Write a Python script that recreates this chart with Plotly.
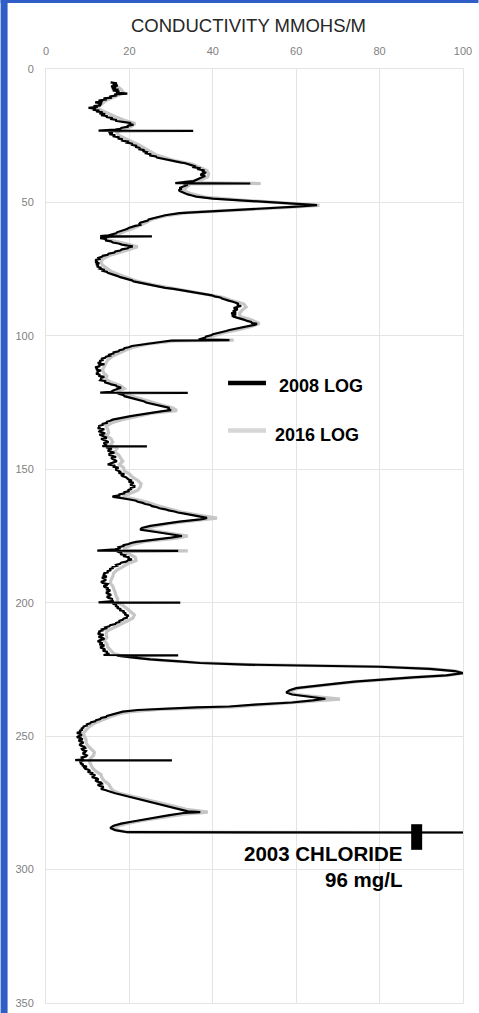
import plotly.graph_objects as go

# ---- conductivity log data (depth, mmohs/m) ----
depth_2008 = [
    5.0, 5.4, 5.8, 6.2, 6.5, 6.9, 7.3, 7.7, 8.0, 8.4,
    8.8, 9.2, 9.5, 9.9, 10.3, 10.7, 11.0, 11.4, 11.8, 12.1,
    12.5, 12.9, 13.2, 13.6, 13.9, 14.2, 14.6, 14.9, 15.2, 15.6,
    15.9, 16.2, 16.6, 16.9, 17.3, 17.7, 18.0, 18.4, 18.7, 19.1,
    19.4, 19.7, 20.0, 20.3, 20.6, 20.9, 21.3, 21.6, 22.0, 22.4,
    22.7, 23.1, 23.2, 23.3, 23.7, 24.0, 24.4, 24.8, 25.2, 25.6,
    26.0, 26.4, 26.8, 27.2, 27.6, 28.0, 28.4, 28.8, 29.2, 29.6,
    30.0, 30.4, 30.8, 31.2, 31.6, 32.0, 32.4, 32.8, 33.2, 33.6,
    34.0, 34.4, 34.7, 35.0, 35.3, 35.6, 36.0, 36.4, 36.8, 37.2,
    37.6, 38.0, 38.4, 38.8, 39.2, 39.6, 40.0, 40.4, 40.8, 41.2,
    41.6, 42.0, 42.3, 42.6, 42.8, 42.9, 43.0, 43.4, 43.8, 44.2,
    44.6, 45.0, 45.4, 45.8, 46.2, 46.6, 47.0, 47.4, 47.8, 48.6,
    49.4, 50.2, 51.0, 51.6, 52.4, 53.2, 54.0, 54.8, 55.2, 55.6,
    56.0, 56.4, 56.8, 57.2, 57.6, 58.0, 58.4, 58.8, 59.2, 59.6,
    60.0, 60.4, 60.8, 61.2, 61.6, 62.0, 62.3, 62.6, 62.7, 62.8,
    63.1, 63.4, 63.8, 64.2, 64.6, 65.0, 65.4, 65.8, 66.2, 66.5,
    66.9, 67.2, 67.6, 68.0, 68.4, 68.8, 69.2, 69.6, 70.0, 70.4,
    70.8, 71.2, 71.6, 72.0, 72.4, 72.8, 73.2, 73.6, 74.0, 74.4,
    74.8, 75.2, 75.6, 76.0, 76.4, 76.8, 77.2, 77.6, 78.0, 78.4,
    78.8, 79.2, 79.6, 80.0, 80.4, 80.8, 81.2, 81.6, 82.0, 82.4,
    82.8, 83.2, 83.6, 84.0, 84.4, 84.8, 85.2, 85.6, 86.0, 86.4,
    86.8, 87.2, 87.6, 88.0, 88.4, 88.8, 89.2, 89.6, 90.0, 90.4,
    90.8, 91.2, 91.6, 92.0, 92.4, 92.8, 93.2, 93.6, 94.0, 94.4,
    94.8, 95.2, 95.5, 95.8, 96.2, 96.6, 97.0, 97.4, 97.8, 98.2,
    98.6, 99.0, 99.4, 99.8, 100.2, 100.6, 101.0, 101.4, 101.6, 101.8,
    102.2, 102.6, 103.0, 103.4, 103.8, 104.2, 104.6, 105.0, 105.4, 105.8,
    106.2, 106.6, 107.0, 107.4, 107.8, 108.2, 108.6, 109.0, 109.4, 109.8,
    110.2, 110.6, 111.0, 111.4, 111.8, 112.2, 112.6, 113.0, 113.4, 113.8,
    114.2, 114.6, 115.0, 115.4, 115.8, 116.2, 116.6, 117.0, 117.4, 117.8,
    118.2, 118.6, 119.0, 119.4, 119.8, 120.2, 120.6, 121.0, 121.3, 121.4,
    121.5, 121.8, 122.2, 122.6, 123.0, 123.4, 123.8, 124.2, 124.6, 125.0,
    125.4, 125.8, 126.2, 126.6, 127.0, 127.4, 127.8, 128.2, 128.6, 129.0,
    129.4, 129.8, 130.2, 130.6, 131.0, 131.4, 131.8, 132.2, 132.6, 133.0,
    133.4, 133.8, 134.2, 134.6, 135.0, 135.4, 135.8, 136.2, 136.6, 137.0,
    137.4, 137.8, 138.2, 138.6, 139.0, 139.4, 139.8, 140.2, 140.6, 141.0,
    141.3, 141.4, 141.5, 141.8, 142.2, 142.6, 143.0, 143.4, 143.8, 144.2,
    144.6, 145.0, 145.4, 145.8, 146.2, 146.6, 147.0, 147.4, 147.8, 148.2,
    148.6, 149.0, 149.4, 149.8, 150.2, 150.6, 151.0, 151.4, 151.8, 152.2,
    152.6, 153.0, 153.4, 153.8, 154.2, 154.6, 155.0, 155.4, 155.8, 156.2,
    156.6, 157.0, 157.4, 157.8, 158.2, 158.6, 159.0, 159.4, 159.8, 160.1,
    160.4, 160.7, 161.0, 161.4, 161.8, 162.2, 162.6, 163.0, 163.4, 163.8,
    164.2, 164.6, 165.0, 165.4, 165.8, 166.2, 166.6, 167.0, 167.4, 167.8,
    168.2, 168.5, 168.8, 169.6, 170.4, 171.2, 172.0, 172.6, 173.4, 174.2,
    175.0, 175.6, 176.4, 177.2, 177.6, 178.0, 178.4, 178.8, 179.2, 179.6,
    180.0, 180.5, 180.6, 180.7, 181.0, 181.4, 181.8, 182.2, 182.6, 183.0,
    183.4, 183.8, 184.2, 184.6, 185.0, 185.4, 185.8, 186.2, 186.6, 187.0,
    187.4, 187.8, 188.2, 188.6, 189.0, 189.4, 189.8, 190.2, 190.6, 191.0,
    191.4, 191.8, 192.2, 192.6, 193.0, 193.4, 193.8, 194.2, 194.6, 195.0,
    195.4, 195.8, 196.2, 196.6, 197.0, 197.4, 197.8, 198.2, 198.6, 199.0,
    199.4, 199.9, 200.0, 200.1, 200.4, 200.8, 201.2, 201.6, 202.0, 202.4,
    202.8, 203.2, 203.6, 204.0, 204.4, 204.8, 205.2, 205.6, 206.0, 206.4,
    206.8, 207.2, 207.6, 208.0, 208.4, 208.8, 209.2, 209.6, 210.0, 210.4,
    210.8, 211.2, 211.6, 212.0, 212.4, 212.8, 213.2, 213.6, 214.0, 214.4,
    214.8, 215.2, 215.6, 216.0, 216.4, 216.8, 217.2, 217.6, 218.0, 218.4,
    218.8, 219.2, 219.6, 219.7, 219.8, 220.4, 221.2, 222.0, 222.6, 223.2,
    224.0, 224.8, 225.6, 226.4, 227.2, 228.0, 228.8, 229.6, 230.4, 231.2,
    232.0, 232.8, 233.6, 234.4, 235.2, 236.0, 236.6, 237.4, 238.2, 238.9,
    239.2, 239.6, 240.2, 240.8, 241.2, 241.6, 242.0, 242.4, 242.8, 243.2,
    243.6, 244.0, 244.4, 244.8, 245.2, 245.6, 246.0, 246.4, 246.8, 247.2,
    247.6, 248.0, 248.4, 248.8, 249.2, 249.6, 250.0, 250.4, 250.8, 251.2,
    251.6, 252.0, 252.4, 252.8, 253.2, 253.6, 254.0, 254.4, 254.8, 255.2,
    255.6, 256.0, 256.4, 256.8, 257.2, 257.6, 258.0, 258.4, 258.8, 259.0,
    259.1, 259.2, 259.5, 259.8, 260.2, 260.6, 261.0, 261.4, 261.8, 262.2,
    262.6, 263.0, 263.4, 263.8, 264.2, 264.6, 265.0, 265.4, 265.8, 266.2,
    266.6, 267.0, 267.4, 267.8, 268.2, 268.6, 269.0, 269.4, 269.8, 270.2,
    270.6, 271.0, 271.4, 271.8, 272.6, 273.4, 274.2, 275.0, 275.8, 276.6,
    277.4, 278.2, 278.5, 278.8, 279.6, 280.4, 281.2, 282.0, 282.8, 283.6,
    284.4, 285.2, 286.0, 286.1,
]
cond_2008 = [
    15.5, 17.0, 16.0, 17.2, 15.6, 16.8, 15.8, 17.4, 16.0, 17.6,
    16.8, 19.5, 16.4, 17.0, 15.2, 15.8, 13.8, 14.6, 12.6, 13.6,
    11.8, 13.4, 12.6, 13.2, 11.4, 12.4, 10.2, 12.0, 11.2, 12.8,
    12.0, 13.6, 12.8, 14.2, 13.2, 14.8, 14.4, 16.0, 15.4, 17.0,
    16.6, 18.0, 18.4, 20.4, 19.8, 21.0, 19.4, 19.8, 18.2, 17.8,
    16.6, 12.6, 35.3, 15.8, 15.0, 16.0, 15.2, 16.6, 16.0, 17.6,
    17.2, 18.4, 18.0, 19.6, 19.4, 20.8, 20.4, 21.8, 21.4, 22.6,
    22.2, 23.6, 23.2, 24.2, 24.0, 25.2, 24.8, 26.4, 26.6, 27.8,
    28.6, 29.8, 31.0, 32.2, 33.4, 34.2, 34.8, 35.6, 35.4, 36.8,
    36.6, 38.0, 37.4, 38.4, 37.6, 37.0, 38.2, 37.6, 37.0, 36.8,
    35.8, 35.4, 33.6, 32.0, 31.0, 49.0, 33.0, 34.0, 33.2, 32.8,
    32.0, 32.6, 31.8, 32.2, 32.8, 33.2, 34.0, 35.0, 36.0, 40.0,
    48.0, 58.0, 65.0, 60.0, 50.0, 42.0, 32.0, 28.6, 27.6, 26.0,
    25.0, 24.6, 24.4, 23.4, 22.6, 22.4, 22.6, 21.4, 20.4, 19.8,
    19.4, 18.4, 17.4, 17.0, 16.8, 16.0, 15.0, 13.0, 25.4, 15.2,
    13.8, 13.0, 14.6, 14.2, 15.6, 16.0, 17.4, 18.2, 19.6, 20.8,
    19.8, 19.6, 18.2, 17.8, 16.6, 16.4, 15.0, 14.8, 13.6, 13.4,
    12.6, 12.8, 11.8, 12.4, 11.8, 12.8, 12.0, 12.6, 12.2, 13.0,
    12.8, 13.8, 13.6, 14.6, 14.8, 15.8, 16.2, 17.2, 17.8, 18.8,
    19.4, 20.6, 21.0, 22.2, 23.0, 24.4, 25.4, 27.2, 28.6, 30.6,
    32.2, 34.2, 35.4, 37.2, 38.2, 39.8, 40.4, 41.8, 42.2, 43.4,
    43.8, 44.8, 45.6, 46.2, 45.8, 46.8, 45.8, 45.0, 46.0, 45.4,
    44.8, 45.6, 44.4, 45.6, 44.6, 45.0, 46.0, 46.4, 47.6, 48.2,
    49.2, 49.4, 50.6, 50.2, 48.8, 47.8, 46.2, 45.6, 44.0, 43.2,
    42.0, 41.2, 40.0, 39.6, 38.4, 38.2, 37.0, 36.6, 44.0, 30.0,
    28.0, 26.0, 23.6, 22.2, 20.6, 20.0, 18.8, 18.6, 17.6, 17.4,
    16.2, 16.2, 15.2, 15.4, 14.4, 14.2, 13.2, 13.8, 12.8, 13.2,
    12.4, 14.0, 12.8, 12.8, 11.8, 12.4, 12.0, 13.2, 12.2, 12.6,
    12.0, 13.0, 12.6, 14.0, 13.2, 13.2, 13.0, 14.4, 14.0, 15.0,
    15.6, 16.8, 17.0, 18.0, 17.0, 16.6, 16.0, 15.6, 13.0, 34.0,
    17.2, 17.6, 18.6, 18.8, 19.8, 20.4, 21.8, 22.4, 23.6, 24.0,
    25.2, 26.2, 27.6, 28.2, 29.6, 29.2, 30.0, 28.0, 26.0, 24.0,
    22.6, 21.4, 20.0, 18.4, 17.2, 16.0, 15.4, 14.6, 14.6, 13.6,
    13.6, 12.6, 13.0, 12.4, 14.0, 13.0, 12.8, 13.8, 14.2, 12.8,
    13.4, 14.0, 14.6, 13.2, 13.8, 14.2, 15.0, 13.8, 14.2, 14.6,
    13.5, 24.2, 15.0, 14.4, 15.8, 15.2, 14.8, 15.6, 16.4, 15.2,
    15.2, 16.0, 16.8, 15.6, 16.0, 16.6, 17.0, 16.2, 15.4, 14.8,
    16.6, 16.0, 17.4, 16.8, 16.8, 17.6, 18.0, 17.4, 18.8, 18.0,
    18.4, 19.2, 19.6, 19.8, 20.6, 19.8, 21.0, 20.4, 20.2, 21.2,
    21.2, 20.2, 20.6, 19.6, 20.0, 18.8, 18.8, 17.6, 17.6, 16.0,
    16.2, 17.8, 19.6, 20.4, 21.6, 22.0, 23.2, 23.8, 25.0, 25.4,
    26.6, 27.2, 28.6, 29.4, 30.8, 31.6, 33.2, 34.4, 36.0, 36.8,
    38.6, 38.0, 37.0, 32.0, 28.0, 25.0, 23.0, 22.6, 26.0, 30.0,
    32.6, 30.0, 25.4, 21.6, 20.4, 19.8, 18.6, 18.6, 17.4, 17.6,
    16.6, 12.3, 31.7, 17.0, 17.4, 18.2, 17.8, 19.0, 18.8, 20.0,
    19.6, 20.6, 19.6, 19.2, 18.0, 17.8, 16.8, 17.0, 15.8, 16.2,
    15.2, 15.6, 14.6, 15.0, 13.8, 14.2, 13.6, 14.6, 13.4, 13.8,
    14.4, 14.0, 13.2, 13.6, 14.8, 14.6, 13.8, 14.2, 15.0, 14.4,
    15.4, 15.0, 14.4, 14.8, 15.6, 15.2, 14.6, 15.0, 16.0, 15.6,
    16.2, 12.6, 32.2, 16.2, 16.0, 17.0, 16.6, 17.4, 17.0, 18.0,
    17.6, 18.8, 18.4, 19.2, 18.8, 19.8, 19.4, 19.4, 18.6, 18.4,
    17.6, 17.6, 16.8, 16.6, 15.4, 15.2, 14.2, 14.4, 13.4, 13.6,
    12.6, 13.0, 12.4, 13.8, 13.2, 12.6, 13.6, 14.0, 13.0, 12.4,
    13.0, 13.6, 12.8, 14.0, 13.4, 13.0, 13.8, 14.2, 13.6, 14.8,
    14.4, 15.2, 13.8, 31.7, 17.0, 20.0, 25.0, 32.0, 37.0, 48.0,
    80.0, 92.0, 98.0, 100.0, 96.0, 88.0, 80.0, 74.0, 69.0, 64.0,
    60.0, 58.4, 57.6, 59.0, 63.0, 67.0, 64.0, 59.0, 50.0, 44.0,
    36.0, 29.0, 22.0, 18.4, 17.4, 16.2, 15.8, 14.6, 14.4, 13.2,
    13.0, 12.0, 11.8, 10.8, 10.6, 9.8, 9.8, 9.0, 9.0, 8.4,
    8.8, 8.0, 8.4, 7.4, 8.2, 8.6, 7.8, 7.4, 8.4, 8.8,
    7.8, 8.2, 9.0, 8.6, 8.0, 8.4, 9.2, 9.4, 8.6, 8.8,
    9.6, 9.4, 8.8, 9.2, 9.8, 9.6, 8.6, 8.8, 8.2, 7.0,
    30.2, 9.2, 8.0, 8.6, 8.2, 9.0, 8.6, 9.8, 9.2, 9.4,
    10.2, 10.6, 10.0, 11.0, 10.8, 11.8, 11.4, 11.0, 12.2, 12.6,
    11.8, 12.2, 13.2, 13.4, 12.4, 12.8, 13.8, 13.6, 13.2, 14.2,
    14.8, 15.8, 16.6, 17.6, 19.6, 21.8, 24.0, 26.2, 28.2, 30.0,
    32.0, 34.0, 37.0, 33.0, 29.6, 26.4, 23.6, 20.8, 18.0, 16.2,
    15.4, 16.6, 19.5, 100.0,
]

depth_2016 = [
    5.2, 6.4, 7.6, 8.8, 10.2, 11.6, 12.8, 14.2, 15.4, 16.8, 18.0, 19.2, 20.4, 21.6, 22.8,
    23.6, 24.8, 26.0, 27.2, 28.4, 29.6, 30.8, 32.0, 33.2, 34.4, 35.6, 36.8, 38.0, 39.2,
    40.4, 41.6, 42.6, 42.9, 43.1, 44.4, 45.6, 46.8, 48.0, 49.2, 50.4, 51.1, 51.8, 52.8,
    53.8, 55.0, 56.2, 57.4, 58.6, 59.8, 61.0, 62.2, 63.2, 64.4, 65.6, 66.6, 67.6, 68.8,
    70.0, 71.2, 72.4, 73.6, 74.8, 76.0, 77.2, 78.4, 79.6, 80.8, 82.0, 83.2, 84.4, 85.6,
    86.8, 88.0, 89.2, 90.4, 91.6, 92.8, 94.0, 95.4, 96.4, 97.6, 98.8, 100.0, 101.2,
    101.6, 101.9, 103.0, 104.2, 105.4, 106.6, 107.8, 109.0, 110.2, 111.4, 112.6, 113.8,
    115.0, 116.2, 117.4, 118.6, 119.8, 121.0, 122.2, 123.4, 124.6, 125.8, 127.0, 128.0,
    129.0, 130.2, 131.4, 132.6, 133.8, 135.0, 136.2, 137.4, 138.6, 139.8, 141.0, 142.2,
    143.4, 144.6, 145.8, 147.0, 148.2, 149.4, 150.6, 151.8, 153.0, 154.2, 155.4, 156.6,
    157.8, 159.0, 160.2, 161.2, 162.4, 163.6, 164.8, 166.0, 167.2, 168.3, 169.2, 170.4,
    171.6, 172.6, 173.8, 175.0, 175.8, 177.0, 178.2, 179.4, 180.4, 180.6, 180.8, 181.8,
    183.0, 184.2, 185.4, 186.6, 187.8, 189.0, 190.2, 191.4, 192.6, 193.8, 195.0, 196.2,
    197.4, 198.6, 199.8, 201.0, 202.2, 203.4, 204.6, 205.8, 207.0, 208.2, 209.4, 210.6,
    211.8, 213.0, 214.2, 215.4, 216.6, 217.8, 219.0, 219.8, 220.6, 221.6, 222.4, 223.2,
    224.0, 224.8, 225.6, 226.4, 227.2, 228.0, 228.8, 229.6, 230.4, 231.2, 232.0, 232.8,
    233.6, 234.4, 235.2, 236.1, 236.8, 237.6, 238.4, 239.0, 239.4, 240.0, 240.8, 241.6,
    242.4, 243.2, 244.0, 245.2, 246.4, 247.6, 248.8, 250.0, 251.2, 252.4, 253.6, 254.8,
    256.0, 257.2, 258.4, 259.6, 260.8, 262.0, 263.2, 264.4, 265.6, 266.8, 268.0, 269.2,
    270.4, 271.4, 272.6, 273.8, 275.0, 276.2, 277.4, 278.5, 279.2, 280.4, 281.6, 282.8,
    283.8, 284.6, 285.4, 286.0, 286.1,
]
cond_2016 = [
    16.5, 17.0, 18.0, 18.6, 16.8, 14.6, 13.6, 12.0, 13.2, 15.0, 16.8, 18.8, 21.4, 20.4, 18.2,
    17.0, 17.4, 18.8, 20.6, 22.2, 23.6, 25.0, 26.2, 28.4, 31.0, 35.0, 37.0, 38.6, 39.0,
    38.8, 37.2, 33.0, 51.5, 34.6, 33.6, 33.0, 35.0, 38.0, 47.6, 60.0, 65.6, 59.0, 47.0,
    34.0, 28.8, 25.6, 24.2, 22.6, 20.8, 18.6, 17.0, 14.6, 16.0, 19.6, 22.0, 20.0, 17.6,
    15.0, 13.6, 13.2, 13.6, 14.6, 15.8, 17.8, 19.8, 22.0, 25.4, 29.6, 34.8, 39.0, 42.6,
    44.6, 47.4, 48.0, 47.0, 46.4, 46.6, 49.2, 51.2, 49.4, 46.4, 42.6, 40.0, 37.8,
    45.0, 31.0, 24.4, 21.0, 19.0, 17.2, 15.8, 14.8, 14.4, 13.8, 13.6, 13.8,
    14.6, 14.4, 15.6, 17.8, 18.8, 17.0, 19.6, 21.8, 24.6, 27.6, 30.4, 31.4,
    25.4, 21.4, 18.2, 15.8, 14.4, 14.8, 15.0, 14.6, 15.6, 16.0, 15.4, 17.0,
    16.4, 17.4, 18.0, 18.4, 17.6, 18.6, 18.8, 20.0, 20.8, 22.0, 22.8, 22.6,
    22.0, 20.4, 18.4, 21.2, 24.4, 26.6, 29.4, 32.4, 36.6, 41.0, 36.0, 29.4,
    25.4, 23.8, 29.0, 34.0, 31.4, 23.8, 20.8, 19.0, 18.6, 34.0, 18.8, 20.0,
    21.4, 21.6, 19.6, 18.4, 17.0, 16.2, 16.0, 15.6, 15.4, 16.0, 16.4, 16.6,
    16.8, 17.2, 17.0, 18.4, 19.4, 20.4, 21.2, 20.8, 19.2, 17.8, 15.8, 14.6,
    14.4, 14.6, 14.0, 14.6, 14.8, 15.4, 16.2, 18.0, 21.4, 28.0, 36.0, 49.0,
    80.6, 92.6, 98.4, 100.0, 96.4, 88.6, 80.6, 74.6, 69.6, 64.6, 60.6, 59.0,
    58.4, 60.0, 64.4, 70.5, 64.6, 58.6, 50.4, 45.0, 36.6, 27.0, 20.4, 17.6,
    16.0, 14.6, 13.4, 11.6, 10.4, 9.6, 9.0, 9.2, 9.6, 9.6, 10.0, 10.8,
    11.6, 11.4, 10.6, 10.4, 10.8, 11.2, 12.0, 13.2, 13.4, 14.0, 15.0, 15.4,
    16.0, 17.6, 21.0, 23.6, 27.4, 30.6, 33.6, 38.8, 33.0, 27.6, 23.2, 19.2,
    16.8, 16.0, 17.6, 20.0, 100.0,
]

# 2003 chloride sample (mg/L) and its sampled depth interval
chloride_value = 96
chloride_depth = [283.0, 292.6]

x_ticks = [0, 20, 40, 60, 80, 100]
y_ticks = [0, 50, 100, 150, 200, 250, 300, 350]

# ---- figure geometry (pixels) ----
W, H = 479, 1013
L, R, T, B = 45.5, 463.5, 69, 1003


def px_x(p):
    return (p - L) / (R - L)


def px_y(p):
    return (B - p) / (B - T)


fig = go.Figure()

fig.add_trace(go.Scatter(
    x=cond_2016, y=depth_2016, mode="lines", name="2016 LOG",
    line=dict(color="#c6c6c6", width=3.2), showlegend=False,
))
fig.add_trace(go.Scatter(
    x=cond_2008, y=depth_2008, mode="lines", name="2008 LOG",
    line=dict(color="#000000", width=2.2), showlegend=False,
))
fig.add_trace(go.Scatter(
    x=[chloride_value, chloride_value], y=chloride_depth, mode="lines",
    name="2003 CHLORIDE", xaxis="x2", yaxis="y",
    line=dict(color="#000000", width=11), showlegend=False,
))

grid = "#e4e4e4"
tick_font = dict(family="Liberation Sans, Arial, sans-serif", size=11, color="#7f7f7f")

fig.update_layout(
    width=W, height=H,
    margin=dict(l=L, r=W - R, t=T, b=H - B, autoexpand=False),
    paper_bgcolor="white", plot_bgcolor="white",
    xaxis=dict(
        side="top", range=[0, 100], tickvals=x_ticks, showgrid=True, gridcolor=grid,
        zeroline=False, showline=True, mirror=True, linecolor=grid, linewidth=1,
        ticks="", tickfont=tick_font, ticklabelstandoff=9, fixedrange=True,
        automargin=False,
    ),
    xaxis2=dict(
        overlaying="x", side="top", range=[0, 108], visible=False, fixedrange=True,
        automargin=False,
    ),
    yaxis=dict(
        range=[350, 0], tickvals=y_ticks, showgrid=True, gridcolor=grid,
        zeroline=False, showline=True, mirror=True, linecolor=grid, linewidth=1,
        ticks="", tickfont=tick_font, ticklabelstandoff=9, fixedrange=True,
        automargin=False,
    ),
    showlegend=False,
)

# frame accent along the top and left edges
blue = "#2f5fc6"
fig.add_shape(type="rect", xref="paper", yref="paper",
              x0=px_x(0), x1=px_x(W), y0=px_y(0), y1=px_y(3),
              fillcolor=blue, line_width=0, layer="above")
fig.add_shape(type="rect", xref="paper", yref="paper",
              x0=px_x(0), x1=px_x(7), y0=px_y(0), y1=px_y(H),
              fillcolor=blue, line_width=0, layer="above")

# legend keys
fig.add_shape(type="line", xref="paper", yref="paper",
              x0=px_x(228), x1=px_x(266), y0=px_y(383), y1=px_y(383),
              line=dict(color="#000000", width=4.5))
fig.add_shape(type="line", xref="paper", yref="paper",
              x0=px_x(228), x1=px_x(266), y0=px_y(430.5), y1=px_y(430.5),
              line=dict(color="#d6d6d6", width=4.5))

bold = dict(family="Liberation Sans, Arial, sans-serif", size=18, color="#000000")
fig.add_annotation(text="<b>2008 LOG</b>", xref="paper", yref="paper",
                   x=px_x(277), y=px_y(385.5), xanchor="left", yanchor="middle",
                   showarrow=False, font=bold)
fig.add_annotation(text="<b>2016 LOG</b>", xref="paper", yref="paper",
                   x=px_x(273), y=px_y(435.5), xanchor="left", yanchor="middle",
                   showarrow=False, font=bold)

big_bold = dict(family="Liberation Sans, Arial, sans-serif", size=20.5, color="#000000")
fig.add_annotation(text="<b>2003 CHLORIDE</b>", xref="paper", yref="paper",
                   x=px_x(404), y=px_y(853), xanchor="right", yanchor="middle",
                   showarrow=False, font=big_bold)
fig.add_annotation(text=f"<b>{chloride_value} mg/L</b>", xref="paper", yref="paper",
                   x=px_x(404), y=px_y(879), xanchor="right", yanchor="middle",
                   showarrow=False, font=big_bold)

fig.add_annotation(text="CONDUCTIVITY MMOHS/M", xref="paper", yref="paper",
                   x=px_x(248), y=px_y(25.5), xanchor="center", yanchor="middle",
                   showarrow=False,
                   font=dict(family="Liberation Sans, Arial, sans-serif", size=18.5,
                             color="#262626"))

# let the fixed-size figure sit flush in the page
page_fit = "document.body.style.margin = '0';"

fig.write_html("out.html", post_script=page_fit)
